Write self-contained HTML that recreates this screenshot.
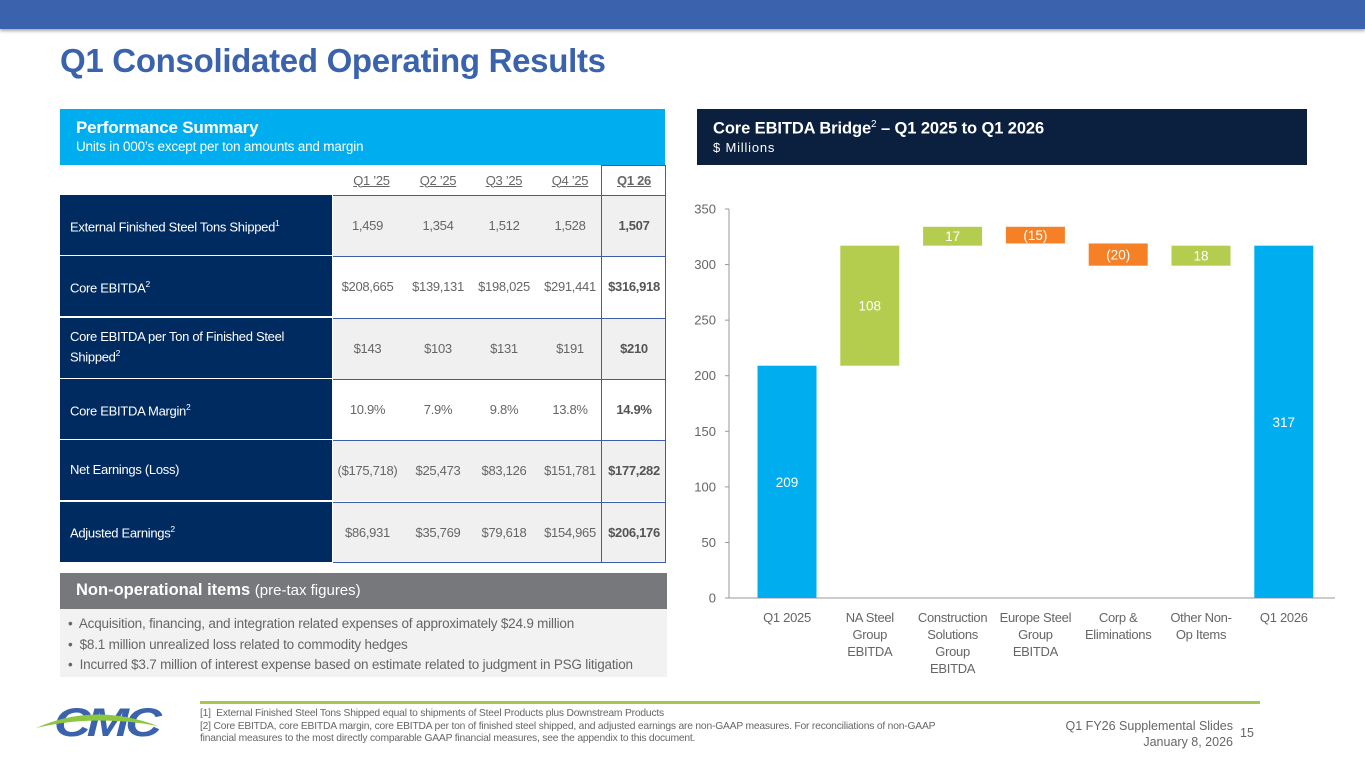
<!DOCTYPE html>
<html><head><meta charset="utf-8">
<style>
*{margin:0;padding:0;box-sizing:border-box}
body{width:1365px;height:768px;position:relative;background:#fff;font-family:"Liberation Sans",sans-serif;overflow:hidden}
.abs{position:absolute}
.top{left:0;top:0;width:1365px;height:29px;background:#3a62ad;box-shadow:0 2px 3px rgba(0,0,0,.35)}
.title{left:60px;top:42px;font-size:33px;font-weight:bold;color:#3a62ad;letter-spacing:-0.3px}
.ps{left:60px;top:109px;width:605px;height:56px;background:#00aeef;color:#fff;padding:9px 16px}
.ps b{font-size:17px;display:block;letter-spacing:-0.2px}
.ps span{font-size:13.5px;letter-spacing:-0.2px}
.cell{position:absolute;display:flex;align-items:center;justify-content:center;font-size:13px;color:#666;letter-spacing:-0.3px}
.lab{position:absolute;left:60px;width:272px;background:#002b60;color:#fff;font-size:13px;display:flex;align-items:center;padding-left:10px;padding-right:20px;letter-spacing:-0.3px;line-height:16px}
.hd{position:absolute;top:165px;height:30px;font-size:13px;color:#666;text-decoration:underline;display:flex;align-items:center;justify-content:center;letter-spacing:-0.3px}
.bridge{left:697px;top:109px;width:610px;height:56px;background:#0b1f3f;color:#fff;padding:10px 16px}
.bridge b{font-size:16.5px;display:block;letter-spacing:-0.1px}
.bridge span{font-size:13px;letter-spacing:0.8px}
.nop{left:60px;top:573px;width:607px;height:36px;background:#77787b;color:#fff;padding:8px 16px;font-size:16.5px}
.nopl{left:60px;top:609px;width:607px;height:68px;background:#f2f2f2;padding:5px 8px;font-size:13.5px;color:#666;line-height:20.5px;letter-spacing:-0.2px}
.foot{left:200px;top:708px;font-size:10.3px;color:#666;line-height:12.5px;letter-spacing:-0.2px;width:770px}
</style></head><body>
<div class="abs top"></div>
<div class="abs title">Q1 Consolidated Operating Results</div>

<div class="abs ps"><b>Performance Summary</b><span>Units in 000’s except per ton amounts and margin</span></div>

<div id="table"></div>

<div class="abs nop"><b>Non-operational items</b> <span style="font-size:15px">(pre-tax figures)</span></div>
<div class="abs nopl">
<div>•&nbsp; Acquisition, financing, and integration related expenses of approximately $24.9 million</div>
<div>•&nbsp; $8.1 million unrealized loss related to commodity hedges</div>
<div>•&nbsp; Incurred $3.7 million of interest expense based on estimate related to judgment in PSG litigation</div>
</div>

<div class="abs bridge"><b>Core EBITDA Bridge<sup style="font-size:10px;font-weight:normal">2</sup> – Q1 2025 to Q1 2026</b><span>$ Millions</span></div>

<svg class="abs" style="left:0;top:0" width="1365" height="768" id="chart"></svg>

<svg class="abs" style="left:34px;top:698px" width="130" height="44">
<text x="20" y="38" font-family="Liberation Sans" font-weight="bold" font-style="italic" font-size="40" fill="#3a62ad" letter-spacing="-3" textLength="104" lengthAdjust="spacingAndGlyphs">CMC</text>
<path d="M2 30 Q60 4 124 28 Q60 16 2 30Z" fill="#8dc63f"/>
</svg>
<div class="abs" style="left:200px;top:701px;width:1060px;height:3px;background:#a6c64c"></div>
<div class="abs foot">[1]&nbsp; External Finished Steel Tons Shipped equal to shipments of Steel Products plus Downstream Products<br>[2] Core EBITDA, core EBITDA margin, core EBITDA per ton of finished steel shipped, and adjusted earnings are non-GAAP measures. For reconciliations of non-GAAP financial measures to the most directly comparable GAAP financial measures, see the appendix to this document.</div>
<div class="abs" style="left:1030px;top:718px;width:203px;text-align:right;font-size:12.5px;color:#666;line-height:16px">Q1 FY26 Supplemental Slides<br>January 8, 2026</div>
<div class="abs" style="left:1240px;top:726px;font-size:12.5px;color:#666">15</div>

<script>
const colHeads=["Q1 ’25","Q2 ’25","Q3 ’25","Q4 ’25","Q1 26"];
const rowLabels=["External Finished Steel Tons Shipped<sup>1</sup>","Core EBITDA<sup>2</sup>","Core EBITDA per Ton of Finished Steel Shipped<sup>2</sup>","Core EBITDA Margin<sup>2</sup>","Net Earnings (Loss)","Adjusted Earnings<sup>2</sup>"];
const rowVals=[["1,459","1,354","1,512","1,528","1,507"],["$208,665","$139,131","$198,025","$291,441","$316,918"],["$143","$103","$131","$191","$210"],["10.9%","7.9%","9.8%","13.8%","14.9%"],["($175,718)","$25,473","$83,126","$151,781","$177,282"],["$86,931","$35,769","$79,618","$154,965","$206,176"]];
const rowBg=["#f0f0f0","#fff","#f0f0f0","#fff","#f0f0f0","#f0f0f0"];
const tb=document.getElementById('table');
const colX=[338,405,471,537,603],colW=[67,66,66,66,62];
let h='';
colHeads.forEach((c,i)=>{h+=`<div class="hd" style="left:${colX[i]}px;width:${colW[i]}px;${i==4?'font-weight:bold;':''}">${c}</div>`;});
rowLabels.forEach((l,r)=>{const y=195+r*61.3;
 h+=`<div class="lab" style="top:${y}px;height:60px"><span>${l.replace('<sup>','<sup style="font-size:8.5px">')}</span></div>`;
 h+=`<div style="position:absolute;left:333px;top:${y}px;width:333px;height:61px;background:${rowBg[r]};border-top:1.5px solid #3a5fa8"></div>`;
 rowVals[r].forEach((v,i)=>{h+=`<div class="cell" style="left:${colX[i]-(i==0?4:0)}px;top:${y}px;width:${colW[i]}px;height:61px;${i==4?'font-weight:bold;color:#555;':''}">${v}</div>`;});
});
h+=`<div style="position:absolute;left:333px;top:562px;width:333px;border-top:1.5px solid #3a5fa8"></div>`;
h+=`<div style="position:absolute;left:601px;top:165px;width:65px;height:398px;border:1.5px solid #3a5fa8;border-bottom:none"></div>`;
tb.innerHTML=h;

const categories=[["Q1 2025"],["NA Steel","Group","EBITDA"],["Construction","Solutions","Group","EBITDA"],["Europe Steel","Group","EBITDA"],["Corp &","Eliminations"],["Other Non-","Op Items"],["Q1 2026"]];
const values=[209,108,17,-15,-20,18,317];
const isTotal=[true,false,false,false,false,false,true];
const valueLabels=["209","108","17","(15)","(20)","18","317"];
const yTicks=[0,50,100,150,200,250,300,350];
const svg=document.getElementById('chart');const NS='http://www.w3.org/2000/svg';
const y0=598,yTop=209,yMax=350;
const yS=v=>y0-(v/yMax)*(y0-yTop);
const xS=i=>787+i*82.8;
const bw=59;
function el(t,a,txt){const e=document.createElementNS(NS,t);for(const k in a)e.setAttribute(k,a[k]);if(txt!==undefined)e.textContent=txt;svg.appendChild(e);return e;}
let e=el('line',{x1:729,y1:yTop,x2:729,y2:y0,stroke:'#999'});


e=el('line',{x1:729,y1:y0,x2:1335,y2:y0,stroke:'#999'});


yTicks.forEach(t=>{
 el('line',{x1:725,y1:yS(t),x2:729,y2:yS(t),stroke:'#999'});
 e=el('text',{x:716,y:yS(t)+4.5,'text-anchor':'end','font-size':13,fill:'#666','font-family':'Liberation Sans'},t);
 
 
});
let run=0;
values.forEach((v,i)=>{
 let a,b,col;
 if(isTotal[i]){a=0;b=v;run=v;col='#00aeef';}
 else{a=run;b=run+v;run=b;col=v>=0?'#b5cd4f':'#f58025';}
 const top=yS(Math.max(a,b)),bot=yS(Math.min(a,b));
 e=el('rect',{x:xS(i)-bw/2,y:top,width:bw,height:bot-top,fill:col});
 
 
 e=el('text',{x:xS(i),y:(top+bot)/2+5,'text-anchor':'middle','font-size':13.5,fill:'#fff','font-family':'Liberation Sans'},valueLabels[i]);
 
 
 categories[i].forEach((l,j)=>{
  e=el('text',{x:xS(i),y:622+j*17,'text-anchor':'middle','font-size':13,fill:'#666','font-family':'Liberation Sans','letter-spacing':'-0.3'},l);
  
  
 });
});
</script>
</body></html>
